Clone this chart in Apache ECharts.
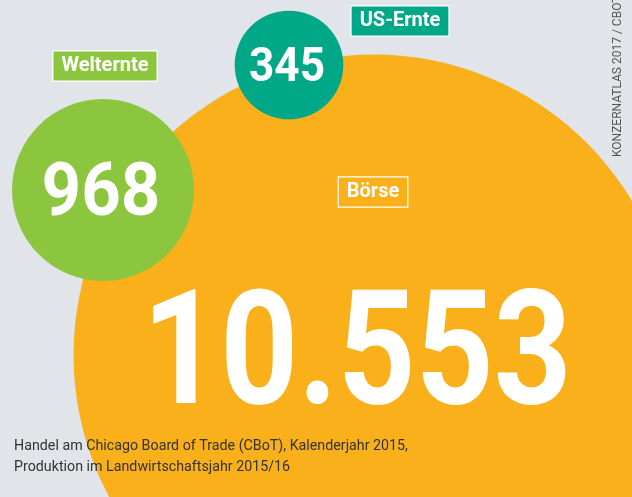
<!DOCTYPE html>
<html>
<head>
<meta charset="utf-8">
<script src="https://cdn.jsdelivr.net/npm/echarts@6/dist/echarts.min.js"></script>
<style>
  html, body { margin: 0; padding: 0; background: #e1e4e8; }
  #chart { width: 632px; height: 497px; }
</style>
</head>
<body>
<div id="chart"></div>
<script>
// Weizen: Handel an der Börse vs. Ernte (Mio. Tonnen)
const categories = ['Börse', 'Welternte', 'US-Ernte'];
const values = [10553, 968, 345];
const colors = ['#f9b01b', '#8cc63f', '#00a887'];

const footnote = [
  'Handel am Chicago Board of Trade (CBoT), Kalenderjahr 2015,',
  'Produktion im Landwirtschaftsjahr 2015/16'
];
const sourceNote = 'KONZERNATLAS 2017 / CBOT, USDA';

// ---- layout (chart units = pixels of the drawing area) ----
const layout = {
  bubbleAnchors: [[374, 355], [103, 190], [289, 65]],
  tagAnchors: [[373, 192], [105, 66], [400, 21]],
  valueOffsets: [[-17, 8], [-2, 6], [-2, 4]],
  valueFontSizes: [160, 75, 49],
  valueScaleX: [0.85, 0.92, 0.9],
  radiusPerSqrt: 2.925
};

const fontFam = 'Roboto, "Noto Sans", sans-serif';
const fmt = v => v.toLocaleString('de-DE');

const bubbleData = values.map((v, i) => [layout.bubbleAnchors[i][0], layout.bubbleAnchors[i][1], v]);

function renderBubble(params, api) {
  const i = params.dataIndex;
  const v = api.value(2);
  const c = api.coord([api.value(0), api.value(1)]);
  const r = layout.radiusPerSqrt * Math.sqrt(v);
  const off = layout.valueOffsets[i];
  return {
    type: 'group',
    children: [
      {
        type: 'circle',
        shape: { cx: c[0], cy: c[1], r: r },
        style: { fill: colors[i] }
      },
      {
        type: 'text',
        x: c[0] + off[0],
        y: c[1] + off[1],
        scaleX: layout.valueScaleX[i],
        style: {
          text: fmt(v),
          fill: '#ffffff',
          fontFamily: fontFam,
          fontWeight: 'bold',
          fontSize: layout.valueFontSizes[i],
          align: 'center',
          verticalAlign: 'middle'
        }
      }
    ]
  };
}

const tagData = categories.map((c, i) => ({
  name: c,
  value: [layout.tagAnchors[i][0], layout.tagAnchors[i][1]],
  label: {
    show: true,
    position: 'inside',
    formatter: c,
    color: '#ffffff',
    fontFamily: fontFam,
    fontWeight: 'bold',
    fontSize: 20,
    backgroundColor: colors[i],
    borderColor: '#ffffff',
    borderWidth: 1.2,
    padding: [5, 8, 4, 8]
  }
}));

const chart = echarts.init(document.getElementById('chart'), null, { renderer: 'canvas' });
chart.setOption({
  backgroundColor: '#e1e4e8',
  animation: false,
  grid: { left: 0, right: 0, top: 0, bottom: 0 },
  xAxis: { type: 'value', min: 0, max: 632, show: false },
  yAxis: { type: 'value', min: 0, max: 497, inverse: true, show: false },
  series: [
    {
      type: 'custom',
      data: bubbleData,
      renderItem: renderBubble,
      silent: true,
      clip: false,
      z: 2
    },
    {
      type: 'scatter',
      symbolSize: 0,
      itemStyle: { opacity: 1 },
      data: tagData,
      silent: true,
      z: 3
    }
  ],
  graphic: [
    {
      type: 'text',
      x: 14,
      y: 436,
      scaleX: 0.95,
      z: 10,
      style: {
        text: footnote.join('\n'),
        fill: '#333333',
        fontFamily: fontFam,
        fontSize: 15,
        lineHeight: 21
      }
    },
    {
      type: 'text',
      x: 618,
      y: 157,
      rotation: Math.PI / 2,
      z: 10,
      style: {
        text: sourceNote,
        fill: '#555555',
        fontFamily: fontFam,
        fontSize: 12,
        align: 'left',
        verticalAlign: 'middle'
      }
    }
  ]
});
</script>
</body>
</html>
